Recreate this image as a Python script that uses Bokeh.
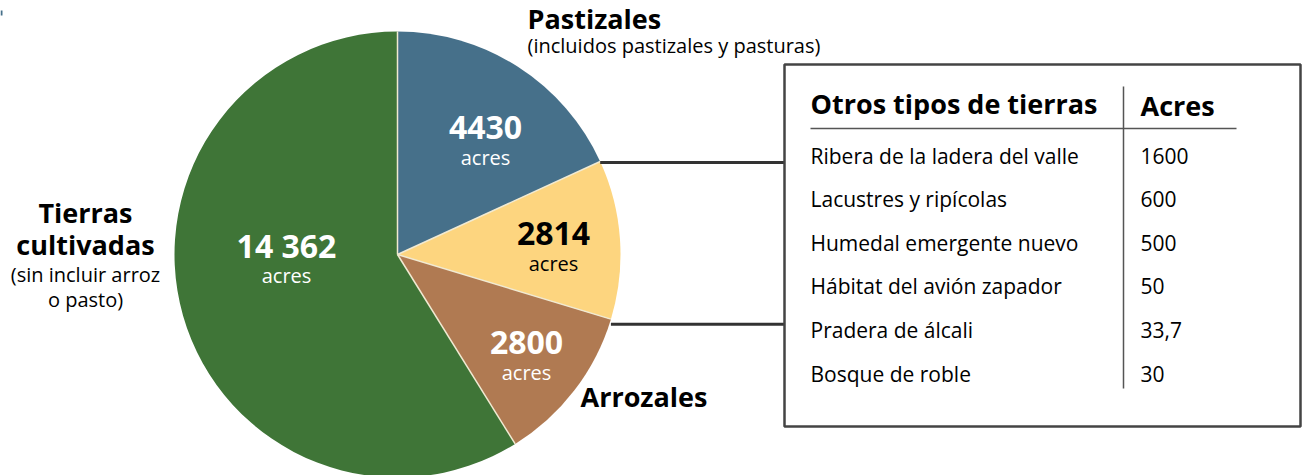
from bokeh.plotting import figure
from bokeh.models import Range1d, ColumnDataSource
from bokeh.core.properties import value
from bokeh.embed import file_html
from bokeh.resources import INLINE
import numpy as np

# ---- data ----
slice_names = ["Pastizales", "Otros tipos de tierras", "Arrozales", "Tierras cultivadas"]
slice_acres = [4430, 2814, 2800, 14362]
slice_value_labels = ["4430", "2814", "2800", "14 362"]
slice_colors = ["#46708a", "#fdd57f", "#b07a52", "#3f7537"]

table_header = ["Otros tipos de tierras", "Acres"]
table_types = ["Ribera de la ladera del valle", "Lacustres y ripícolas", "Humedal emergente nuevo",
               "Hábitat del avión zapador", "Pradera de álcali", "Bosque de roble"]
table_acres = ["1600", "600", "500", "50", "33,7", "30"]

W, H = 1309, 475
FONT = "Open Sans"

def Y(sy):
    return H - sy

p = figure(width=W, height=H, output_backend="svg", toolbar_location=None,
           x_range=Range1d(0, W), y_range=Range1d(0, H), min_border=0)
p.axis.visible = False
p.grid.visible = False
p.outline_line_color = None
p.background_fill_color = "white"

# ---- pie ----
cx, cy, r = 397, 254, 223
vals = np.array(slice_acres, dtype=float)
fr = vals / vals.sum()
cum = np.concatenate([[0], np.cumsum(fr)])
start = np.pi / 2 - cum[:-1] * 2 * np.pi
end = np.pi / 2 - cum[1:] * 2 * np.pi
src = ColumnDataSource(dict(start=start, end=end, color=slice_colors))
p.wedge(x=cx, y=Y(cy), radius=r, radius_units="screen", start_angle="start", end_angle="end",
        direction="clock", fill_color="color", line_color=None, source=src)
# slice separators
sx = cx + r * np.cos(start)
sy = cy - r * np.sin(start)
p.segment(x0=[cx] * len(start), y0=[Y(cy)] * len(start), x1=sx, y1=[Y(v) for v in sy],
          line_color="#f1ead2", line_width=1.5)

# connector lines
ax1 = cx + r * np.cos(start[1]); ay1 = cy - r * np.sin(start[1])
ax2 = cx + r * np.cos(end[1]); ay2 = cy - r * np.sin(end[1])
p.segment(x0=[ax1, ax2], y0=[Y(ay1 + 1), Y(ay2 + 5)], x1=[790, 790], y1=[Y(ay1 + 1), Y(ay2 + 5)],
          line_color="#333333", line_width=3)

# ---- slice labels ----
val_pos = [(485, 127), (553, 233), (526, 342), (286, 245)]
val_col = ["white", "black", "white", "white"]
for (x, y), t, c in zip(val_pos, slice_value_labels, val_col):
    p.text(x=[x], y=[Y(y)], text=[t], text_font=value(FONT), text_font_style="bold",
           text_font_size="32px", text_color=c, text_align="center", text_baseline="middle")
    p.text(x=[x], y=[Y(y + 30)], text=["acres"], text_font=value(FONT),
           text_font_size="20px", text_color=c, text_align="center", text_baseline="middle")

# category labels
p.text(x=[527], y=[Y(18)], text=[slice_names[0]], text_font=value(FONT), text_font_style="bold",
       text_font_size="27px", text_color="black", text_align="left", text_baseline="middle")
p.text(x=[527], y=[Y(45)], text=["(incluidos pastizales y pasturas)"], text_font=value(FONT),
       text_font_size="20px", text_color="black", text_align="left", text_baseline="middle")
p.text(x=[580], y=[Y(396)], text=[slice_names[2]], text_font=value(FONT), text_font_style="bold",
       text_font_size="27px", text_color="black", text_align="left", text_baseline="middle")
p.text(x=[85, 85], y=[Y(212), Y(244)], text=["Tierras", "cultivadas"], text_font=value(FONT),
       text_font_style="bold", text_font_size="27px", text_color="black",
       text_align="center", text_baseline="middle")
p.text(x=[85, 85], y=[Y(274), Y(299)], text=["(sin incluir arroz", "o pasto)"], text_font=value(FONT),
       text_font_size="20px", text_color="black", text_align="center", text_baseline="middle")

# ---- table ----
p.quad(left=[784], right=[1300], top=[Y(64)], bottom=[Y(426)], fill_color="white",
       line_color="#444444", line_width=2.5)
p.text(x=[810], y=[Y(103)], text=[table_header[0]], text_font=value(FONT), text_font_style="bold",
       text_font_size="27px", text_color="black", text_align="left", text_baseline="middle")
p.text(x=[1140], y=[Y(105)], text=[table_header[1]], text_font=value(FONT), text_font_style="bold",
       text_font_size="27px", text_color="black", text_align="left", text_baseline="middle")
p.segment(x0=[810], y0=[Y(128)], x1=[1236], y1=[Y(128)], line_color="#555555", line_width=1.5)
p.segment(x0=[1123], y0=[Y(86)], x1=[1123], y1=[Y(388)], line_color="#555555", line_width=1.5)
row_y = [155 + i * 43.6 for i in range(len(table_types))]
p.text(x=[810] * len(table_types), y=[Y(v) for v in row_y], text=table_types, text_font=value(FONT),
       text_font_size="21px", text_color="black", text_align="left", text_baseline="middle")
p.text(x=[1140] * len(table_acres), y=[Y(v) for v in row_y], text=table_acres, text_font=value(FONT),
       text_font_size="21px", text_color="black", text_align="left", text_baseline="middle")

# tiny mark top-left
p.quad(left=[0], right=[2], top=[Y(10)], bottom=[Y(15)], fill_color="#46708a", line_color=None)

open("out.html", "w").write(file_html(p, INLINE))
